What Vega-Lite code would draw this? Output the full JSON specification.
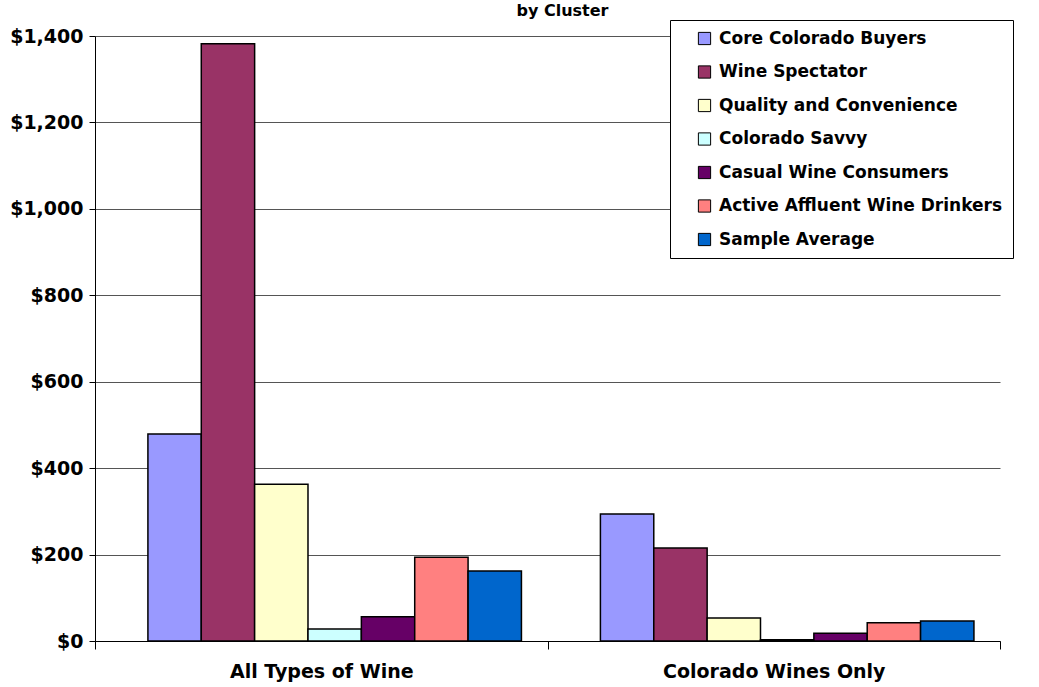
{
  "$schema": "https://vega.github.io/schema/vega-lite/v6.json",
  "autosize": "none",
  "width": 905,
  "height": 605,
  "padding": {"left": 95, "top": 36, "right": 39, "bottom": 46},
  "background": "white",
  "title": {"text": "by Cluster", "fontSize": 16, "fontWeight": "bold", "font": "DejaVu Sans", "offset": 1, "dx": 15, "color": "black"},
  "data": {"values": [
    {"type": "All Types of Wine", "cluster": "Core Colorado Buyers", "spend": 479},
    {"type": "All Types of Wine", "cluster": "Wine Spectator", "spend": 1382},
    {"type": "All Types of Wine", "cluster": "Quality and Convenience", "spend": 363},
    {"type": "All Types of Wine", "cluster": "Colorado Savvy", "spend": 28},
    {"type": "All Types of Wine", "cluster": "Casual Wine Consumers", "spend": 56},
    {"type": "All Types of Wine", "cluster": "Active Affluent Wine Drinkers", "spend": 194},
    {"type": "All Types of Wine", "cluster": "Sample Average", "spend": 162},
    {"type": "Colorado Wines Only", "cluster": "Core Colorado Buyers", "spend": 294},
    {"type": "Colorado Wines Only", "cluster": "Wine Spectator", "spend": 215},
    {"type": "Colorado Wines Only", "cluster": "Quality and Convenience", "spend": 53},
    {"type": "Colorado Wines Only", "cluster": "Colorado Savvy", "spend": 3},
    {"type": "Colorado Wines Only", "cluster": "Casual Wine Consumers", "spend": 18},
    {"type": "Colorado Wines Only", "cluster": "Active Affluent Wine Drinkers", "spend": 42},
    {"type": "Colorado Wines Only", "cluster": "Sample Average", "spend": 46}
  ]},
  "mark": {"type": "bar", "stroke": "black", "strokeWidth": 1.5},
  "encoding": {
    "x": {"field": "type", "type": "nominal", "sort": null,
      "scale": {"paddingInner": 0, "paddingOuter": 0},
      "axis": {"title": null, "labelAngle": 0, "labelFont": "DejaVu Sans", "labelFontSize": 19, "labelFontWeight": "bold", "labelColor": "black", "labelLimit": 400, "domainColor": "black", "tickColor": "black", "tickSize": 8, "labelPadding": 13, "tickBand": "extent"}},
    "xOffset": {"field": "cluster", "type": "nominal", "sort": null, "scale": {"paddingInner": 0, "paddingOuter": 0.74, "align": 0.67}},
    "y": {"field": "spend", "type": "quantitative",
      "scale": {"domain": [0, 1400], "nice": false},
      "axis": {"title": null, "values": [0, 200, 400, 600, 800, 1000, 1200, 1400], "format": "$,.0f", "labelFont": "DejaVu Sans", "labelFontSize": 19, "labelFontWeight": "bold", "labelColor": "black", "domainColor": "black", "tickColor": "black", "tickSize": 6, "labelPadding": 6, "gridColor": "#555555", "gridWidth": 1}},
    "color": {"field": "cluster", "type": "nominal", "sort": null,
      "scale": {
        "domain": ["Core Colorado Buyers", "Wine Spectator", "Quality and Convenience", "Colorado Savvy", "Casual Wine Consumers", "Active Affluent Wine Drinkers", "Sample Average"],
        "range": ["#9999FF", "#993366", "#FFFFCC", "#CCFFFF", "#660066", "#FF8080", "#0066CC"]},
      "legend": {"title": null, "orient": "none", "legendX": 575, "legendY": -16, "fillColor": "white", "strokeColor": "black", "padding": 10, "symbolType": "square", "symbolSize": 150, "symbolStrokeColor": "black", "symbolStrokeWidth": 1, "symbolOpacity": 1, "symbolOffset": 16, "labelFont": "DejaVu Sans", "labelFontSize": 17, "labelFontWeight": "bold", "labelColor": "black", "labelLimit": 400, "rowPadding": 15.5, "labelOffset": 6}}
  },
  "config": {"view": {"stroke": null}, "axis": {"domainWidth": 1}}
}
